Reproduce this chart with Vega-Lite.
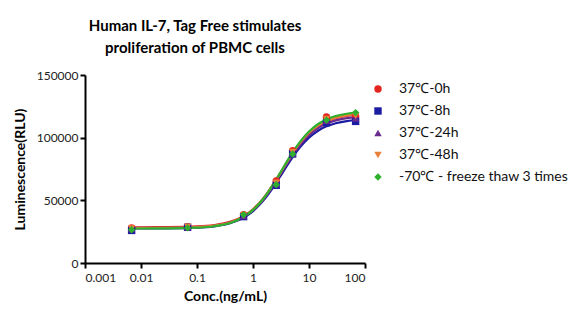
{
  "$schema": "https://vega.github.io/schema/vega-lite/v6.json",
  "width": 280,
  "height": 188,
  "autosize": {"type": "none"},
  "padding": {"left": 85, "top": 75, "right": 219, "bottom": 59},
  "background": "white",
  "config": {
    "view": {"stroke": null},
    "font": "Lato",
    "legend": {
      "orient": "none",
      "legendX": 286,
      "legendY": 7,
      "labelFontSize": 14,
      "labelFont": "Lato",
      "labelColor": "#111111",
      "labelLimit": 400,
      "symbolSize": 55,
      "rowPadding": 8,
      "labelOffset": 14,
      "symbolStrokeWidth": 0
    }
  },
  "title": {
    "text": ["Human IL-7, Tag Free stimulates", "proliferation of PBMC cells"],
    "fontSize": 15,
    "fontWeight": "bold",
    "font": "Lato",
    "color": "#000000",
    "anchor": "middle",
    "frame": "group",
    "dx": -30,
    "lineHeight": 22,
    "offset": 13
  },
  "datasets": {
    "pts": [
      {"series": "37℃-0h", "conc": 0.0068, "rlu": 28000},
      {"series": "37℃-0h", "conc": 0.068, "rlu": 29000},
      {"series": "37℃-0h", "conc": 0.68, "rlu": 38500},
      {"series": "37℃-0h", "conc": 2.6, "rlu": 65500},
      {"series": "37℃-0h", "conc": 5.1, "rlu": 89500},
      {"series": "37℃-0h", "conc": 20.5, "rlu": 116500},
      {"series": "37℃-0h", "conc": 68, "rlu": 117000},
      {"series": "37℃-8h", "conc": 0.0068, "rlu": 26000},
      {"series": "37℃-8h", "conc": 0.068, "rlu": 28500},
      {"series": "37℃-8h", "conc": 0.68, "rlu": 37000},
      {"series": "37℃-8h", "conc": 2.6, "rlu": 62000},
      {"series": "37℃-8h", "conc": 5.1, "rlu": 87000},
      {"series": "37℃-8h", "conc": 20.5, "rlu": 112000},
      {"series": "37℃-8h", "conc": 68, "rlu": 113000},
      {"series": "37℃-24h", "conc": 0.0068, "rlu": 27000},
      {"series": "37℃-24h", "conc": 0.068, "rlu": 28500},
      {"series": "37℃-24h", "conc": 0.68, "rlu": 37500},
      {"series": "37℃-24h", "conc": 2.6, "rlu": 63000},
      {"series": "37℃-24h", "conc": 5.1, "rlu": 87500},
      {"series": "37℃-24h", "conc": 20.5, "rlu": 113500},
      {"series": "37℃-24h", "conc": 68, "rlu": 115500},
      {"series": "37℃-48h", "conc": 0.0068, "rlu": 27500},
      {"series": "37℃-48h", "conc": 0.068, "rlu": 29000},
      {"series": "37℃-48h", "conc": 0.68, "rlu": 38000},
      {"series": "37℃-48h", "conc": 2.6, "rlu": 64000},
      {"series": "37℃-48h", "conc": 5.1, "rlu": 88500},
      {"series": "37℃-48h", "conc": 20.5, "rlu": 115000},
      {"series": "37℃-48h", "conc": 68, "rlu": 117500},
      {"series": "-70℃ - freeze thaw 3 times", "conc": 0.0068, "rlu": 26500},
      {"series": "-70℃ - freeze thaw 3 times", "conc": 0.068, "rlu": 28000},
      {"series": "-70℃ - freeze thaw 3 times", "conc": 0.68, "rlu": 38500},
      {"series": "-70℃ - freeze thaw 3 times", "conc": 2.6, "rlu": 62500},
      {"series": "-70℃ - freeze thaw 3 times", "conc": 5.1, "rlu": 87000},
      {"series": "-70℃ - freeze thaw 3 times", "conc": 20.5, "rlu": 114000},
      {"series": "-70℃ - freeze thaw 3 times", "conc": 68, "rlu": 120000}
    ],
    "curves": [
      {"series": "37℃-0h", "conc": 0.0068, "rlu": 28500},
      {"series": "37℃-0h", "conc": 0.01, "rlu": 28530},
      {"series": "37℃-0h", "conc": 0.03, "rlu": 28630},
      {"series": "37℃-0h", "conc": 0.1, "rlu": 29170},
      {"series": "37℃-0h", "conc": 0.2, "rlu": 30260},
      {"series": "37℃-0h", "conc": 0.4, "rlu": 33010},
      {"series": "37℃-0h", "conc": 0.7, "rlu": 37830},
      {"series": "37℃-0h", "conc": 1, "rlu": 42910},
      {"series": "37℃-0h", "conc": 1.5, "rlu": 51180},
      {"series": "37℃-0h", "conc": 2, "rlu": 58700},
      {"series": "37℃-0h", "conc": 3, "rlu": 71000},
      {"series": "37℃-0h", "conc": 4, "rlu": 80130},
      {"series": "37℃-0h", "conc": 5, "rlu": 86920},
      {"series": "37℃-0h", "conc": 7, "rlu": 96020},
      {"series": "37℃-0h", "conc": 10, "rlu": 103660},
      {"series": "37℃-0h", "conc": 15, "rlu": 109820},
      {"series": "37℃-0h", "conc": 20, "rlu": 112810},
      {"series": "37℃-0h", "conc": 30, "rlu": 115610},
      {"series": "37℃-0h", "conc": 50, "rlu": 117600},
      {"series": "37℃-0h", "conc": 68, "rlu": 118290},
      {"series": "37℃-8h", "conc": 0.0068, "rlu": 27500},
      {"series": "37℃-8h", "conc": 0.01, "rlu": 27530},
      {"series": "37℃-8h", "conc": 0.03, "rlu": 27620},
      {"series": "37℃-8h", "conc": 0.1, "rlu": 28150},
      {"series": "37℃-8h", "conc": 0.2, "rlu": 29200},
      {"series": "37℃-8h", "conc": 0.4, "rlu": 31860},
      {"series": "37℃-8h", "conc": 0.7, "rlu": 36500},
      {"series": "37℃-8h", "conc": 1, "rlu": 41410},
      {"series": "37℃-8h", "conc": 1.5, "rlu": 49380},
      {"series": "37℃-8h", "conc": 2, "rlu": 56630},
      {"series": "37℃-8h", "conc": 3, "rlu": 68500},
      {"series": "37℃-8h", "conc": 4, "rlu": 77300},
      {"series": "37℃-8h", "conc": 5, "rlu": 83860},
      {"series": "37℃-8h", "conc": 7, "rlu": 92630},
      {"series": "37℃-8h", "conc": 10, "rlu": 100000},
      {"series": "37℃-8h", "conc": 15, "rlu": 105940},
      {"series": "37℃-8h", "conc": 20, "rlu": 108830},
      {"series": "37℃-8h", "conc": 30, "rlu": 111530},
      {"series": "37℃-8h", "conc": 50, "rlu": 113450},
      {"series": "37℃-8h", "conc": 68, "rlu": 114120},
      {"series": "37℃-24h", "conc": 0.0068, "rlu": 28000},
      {"series": "37℃-24h", "conc": 0.01, "rlu": 28030},
      {"series": "37℃-24h", "conc": 0.03, "rlu": 28120},
      {"series": "37℃-24h", "conc": 0.1, "rlu": 28660},
      {"series": "37℃-24h", "conc": 0.2, "rlu": 29740},
      {"series": "37℃-24h", "conc": 0.4, "rlu": 32450},
      {"series": "37℃-24h", "conc": 0.7, "rlu": 37190},
      {"series": "37℃-24h", "conc": 1, "rlu": 42200},
      {"series": "37℃-24h", "conc": 1.5, "rlu": 50340},
      {"series": "37℃-24h", "conc": 2, "rlu": 57740},
      {"series": "37℃-24h", "conc": 3, "rlu": 69860},
      {"series": "37℃-24h", "conc": 4, "rlu": 78850},
      {"series": "37℃-24h", "conc": 5, "rlu": 85540},
      {"series": "37℃-24h", "conc": 7, "rlu": 94500},
      {"series": "37℃-24h", "conc": 10, "rlu": 102020},
      {"series": "37℃-24h", "conc": 15, "rlu": 108090},
      {"series": "37℃-24h", "conc": 20, "rlu": 111030},
      {"series": "37℃-24h", "conc": 30, "rlu": 113790},
      {"series": "37℃-24h", "conc": 50, "rlu": 115750},
      {"series": "37℃-24h", "conc": 68, "rlu": 116430},
      {"series": "37℃-48h", "conc": 0.0068, "rlu": 28000},
      {"series": "37℃-48h", "conc": 0.01, "rlu": 28030},
      {"series": "37℃-48h", "conc": 0.03, "rlu": 28130},
      {"series": "37℃-48h", "conc": 0.1, "rlu": 28680},
      {"series": "37℃-48h", "conc": 0.2, "rlu": 29780},
      {"series": "37℃-48h", "conc": 0.4, "rlu": 32560},
      {"series": "37℃-48h", "conc": 0.7, "rlu": 37420},
      {"series": "37℃-48h", "conc": 1, "rlu": 42560},
      {"series": "37℃-48h", "conc": 1.5, "rlu": 50910},
      {"series": "37℃-48h", "conc": 2, "rlu": 58500},
      {"series": "37℃-48h", "conc": 3, "rlu": 70930},
      {"series": "37℃-48h", "conc": 4, "rlu": 80150},
      {"series": "37℃-48h", "conc": 5, "rlu": 87010},
      {"series": "37℃-48h", "conc": 7, "rlu": 96200},
      {"series": "37℃-48h", "conc": 10, "rlu": 103920},
      {"series": "37℃-48h", "conc": 15, "rlu": 110140},
      {"series": "37℃-48h", "conc": 20, "rlu": 113160},
      {"series": "37℃-48h", "conc": 30, "rlu": 115990},
      {"series": "37℃-48h", "conc": 50, "rlu": 118000},
      {"series": "37℃-48h", "conc": 68, "rlu": 118700},
      {"series": "-70℃ - freeze thaw 3 times", "conc": 0.0068, "rlu": 27500},
      {"series": "-70℃ - freeze thaw 3 times", "conc": 0.01, "rlu": 27530},
      {"series": "-70℃ - freeze thaw 3 times", "conc": 0.03, "rlu": 27630},
      {"series": "-70℃ - freeze thaw 3 times", "conc": 0.1, "rlu": 28190},
      {"series": "-70℃ - freeze thaw 3 times", "conc": 0.2, "rlu": 29320},
      {"series": "-70℃ - freeze thaw 3 times", "conc": 0.4, "rlu": 32150},
      {"series": "-70℃ - freeze thaw 3 times", "conc": 0.7, "rlu": 37110},
      {"series": "-70℃ - freeze thaw 3 times", "conc": 1, "rlu": 42350},
      {"series": "-70℃ - freeze thaw 3 times", "conc": 1.5, "rlu": 50870},
      {"series": "-70℃ - freeze thaw 3 times", "conc": 2, "rlu": 58610},
      {"series": "-70℃ - freeze thaw 3 times", "conc": 3, "rlu": 71290},
      {"series": "-70℃ - freeze thaw 3 times", "conc": 4, "rlu": 80690},
      {"series": "-70℃ - freeze thaw 3 times", "conc": 5, "rlu": 87690},
      {"series": "-70℃ - freeze thaw 3 times", "conc": 7, "rlu": 97060},
      {"series": "-70℃ - freeze thaw 3 times", "conc": 10, "rlu": 104940},
      {"series": "-70℃ - freeze thaw 3 times", "conc": 15, "rlu": 111280},
      {"series": "-70℃ - freeze thaw 3 times", "conc": 20, "rlu": 114360},
      {"series": "-70℃ - freeze thaw 3 times", "conc": 30, "rlu": 117250},
      {"series": "-70℃ - freeze thaw 3 times", "conc": 50, "rlu": 119300},
      {"series": "-70℃ - freeze thaw 3 times", "conc": 68, "rlu": 120010}
    ]
  },
  "encoding": {
    "x": {
      "field": "conc",
      "type": "quantitative",
      "scale": {"type": "log", "domain": [0.001, 100], "nice": false},
      "axis": {
        "title": "Conc.(ng/mL)",
        "values": [0.001, 0.01, 0.1, 1, 10, 100],
        "labelExpr": "datum.value < 0.005 ? '0.001' : datum.value < 0.05 ? '0.01' : datum.value < 0.5 ? '0.1' : format(datum.value, 'd')",
        "grid": false,
        "domainColor": "#000000",
        "domainWidth": 2,
        "tickColor": "#000000",
        "tickWidth": 2,
        "tickSize": 5,
        "labelFontSize": 12,
        "labelColor": "#222222",
        "labelPadding": 4,
        "labelFont": "Lato",
        "titleFont": "Lato",
        "titleFontSize": 14,
        "titleFontWeight": "bold",
        "titleColor": "#000000",
        "titlePadding": 6
      }
    },
    "y": {
      "field": "rlu",
      "type": "quantitative",
      "scale": {"domain": [0, 150000], "nice": false},
      "axis": {
        "title": "Luminescence(RLU)",
        "values": [0, 50000, 100000, 150000],
        "format": "d",
        "grid": false,
        "domainColor": "#000000",
        "domainWidth": 2,
        "tickColor": "#000000",
        "tickWidth": 2,
        "tickSize": 5,
        "labelFontSize": 12,
        "labelColor": "#222222",
        "labelPadding": 2,
        "labelFont": "Lato",
        "titleFont": "Lato",
        "titleFontSize": 14,
        "titleFontWeight": "bold",
        "titleColor": "#000000",
        "titlePadding": 9
      }
    },
    "color": {
      "field": "series",
      "type": "nominal",
      "title": null,
      "scale": {
        "domain": ["37℃-0h", "37℃-8h", "37℃-24h", "37℃-48h", "-70℃ - freeze thaw 3 times"],
        "range": ["#e3241f", "#1c1ca3", "#6a2b8e", "#e8803a", "#2eb02e"]
      }
    }
  },
  "layer": [
    {
      "data": {"name": "curves"},
      "mark": {"type": "line", "interpolate": "monotone", "strokeWidth": 2.2}
    },
    {
      "data": {"name": "pts"},
      "mark": {"type": "point", "filled": true, "opacity": 1, "size": 55},
      "encoding": {
        "shape": {
          "field": "series",
          "type": "nominal",
          "title": null,
          "scale": {
            "domain": ["37℃-0h", "37℃-8h", "37℃-24h", "37℃-48h", "-70℃ - freeze thaw 3 times"],
            "range": ["circle", "square", "triangle-up", "triangle-down", "diamond"]
          }
        }
      }
    }
  ]
}
